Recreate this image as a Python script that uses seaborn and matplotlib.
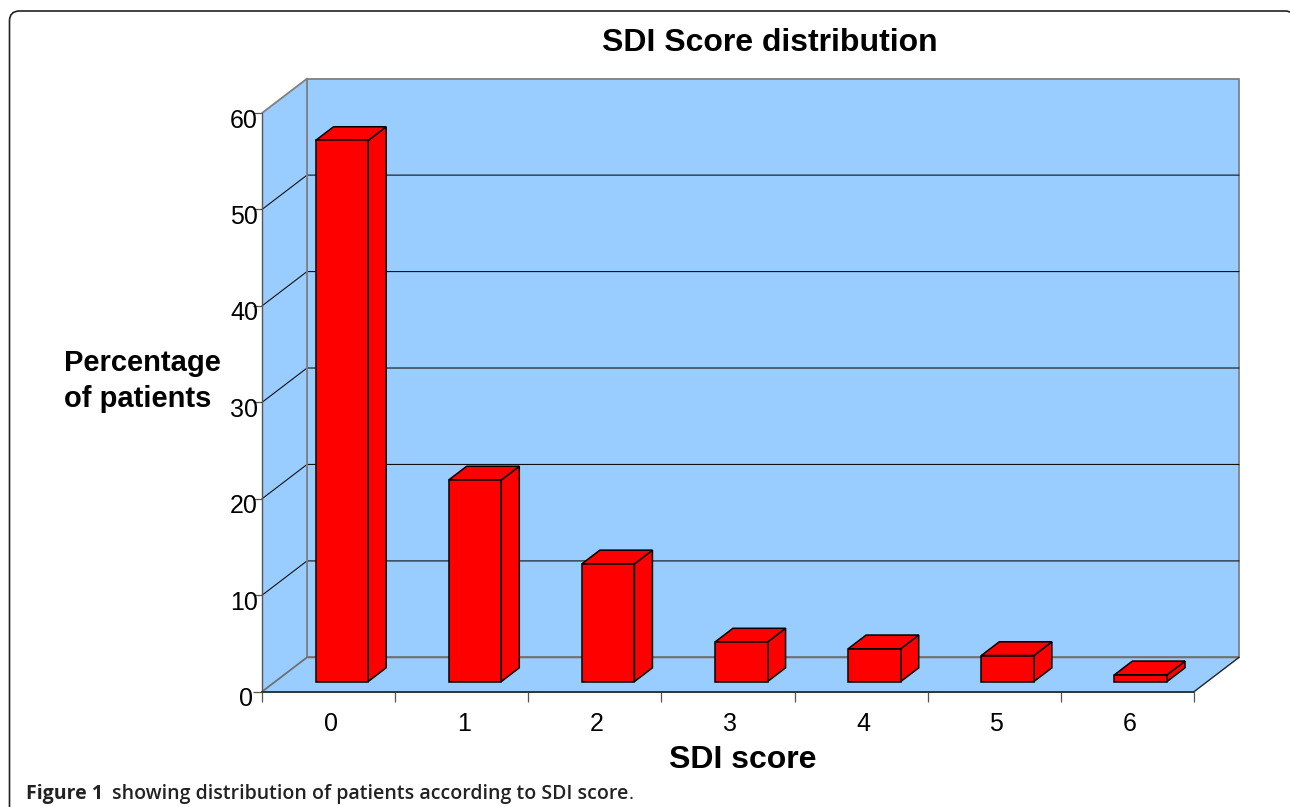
import matplotlib
matplotlib.use('Agg')
import matplotlib.pyplot as plt
import pandas as pd
import seaborn as sns
from matplotlib.patches import FancyBboxPatch, Polygon
from matplotlib.transforms import Affine2D, IdentityTransform

scores = ['0', '1', '2', '3', '4', '5', '6']
percent = [56.1, 20.9, 12.2, 4.1, 3.4, 2.7, 0.7]
y_ticks = [0, 10, 20, 30, 40, 50, 60]

# Size of the fake 3D box, in data units
DEPTH_X = 0.338
DEPTH_Y = 3.56
BAR_FRONT = 0.295
BAR_DEPTH = 0.4
WALL = '#99CCFF'
RED = '#FF0000'

W, H = 1290, 807

sns.set_style('white')
plt.rcParams['font.family'] = ['Liberation Sans', 'DejaVu Sans']

fig = plt.figure(figsize=(W / 100, H / 100), dpi=100)
ax = fig.add_axes([262 / W, (H - 691.7) / H, 932 / W, 578.7 / H])

df = pd.DataFrame({'score': scores, 'percent': percent})
sns.barplot(data=df, x='score', y='percent', color=RED, saturation=1, width=0.395, ax=ax)

x0, x1 = -0.5, 6.5
y0, y1 = 0, 60
ax.set_xlim(x0, x1)
ax.set_ylim(y0, y1)
ax.patch.set_visible(False)
sns.despine(ax=ax, left=True, bottom=True)


def face(points, fc, ec, lw=1.0, z=1):
    ax.add_patch(Polygon(points, closed=True, facecolor=fc, edgecolor=ec, linewidth=lw,
                         zorder=z, clip_on=False, joinstyle='miter'))


# Walls and floor
face([(x0 + DEPTH_X, y0 + DEPTH_Y), (x1 + DEPTH_X, y0 + DEPTH_Y),
      (x1 + DEPTH_X, y1 + DEPTH_Y), (x0 + DEPTH_X, y1 + DEPTH_Y)], WALL, '#808080', 1.3, 0)
face([(x0, y0), (x0 + DEPTH_X, y0 + DEPTH_Y),
      (x0 + DEPTH_X, y1 + DEPTH_Y), (x0, y1)], WALL, 'none', 0, 0)
face([(x0, y0), (x1, y0), (x1 + DEPTH_X, y0 + DEPTH_Y),
      (x0 + DEPTH_X, y0 + DEPTH_Y)], WALL, 'none', 0, 0)

# Gridlines run along the side wall and then the back wall
for v in y_ticks[1:-1]:
    ax.plot([x0, x0 + DEPTH_X, x1 + DEPTH_X], [v, v + DEPTH_Y, v + DEPTH_Y],
            color='#111111', lw=0.8, zorder=1, clip_on=False)
ax.plot([x0, x0 + DEPTH_X], [y1, y1 + DEPTH_Y], color='#808080', lw=1.3, zorder=1, clip_on=False)
ax.plot([x0 + DEPTH_X, x0 + DEPTH_X], [y0 + DEPTH_Y, y1 + DEPTH_Y], color='#808080', lw=1.3, zorder=1, clip_on=False)
ax.plot([x0, x0 + DEPTH_X, x1 + DEPTH_X], [y0, y0 + DEPTH_Y, y0 + DEPTH_Y],
        color='#707070', lw=1.3, zorder=1, clip_on=False)
ax.plot([x1, x1 + DEPTH_X], [y0, y0 + DEPTH_Y], color='#222222', lw=1.0, zorder=1, clip_on=False)
ax.plot([x0, x0], [y0, y1], color='#555555', lw=1.0, zorder=2, clip_on=False)
ax.plot([x0, x1], [y0, y0], color='#333333', lw=1.4, zorder=2, clip_on=False)

# Push bars back onto the floor and give them a top and a side
dx = DEPTH_X * BAR_DEPTH
dy = DEPTH_Y * BAR_DEPTH
for bar in ax.patches[:len(scores)]:
    bar.set_x(bar.get_x() + DEPTH_X * BAR_FRONT)
    bar.set_y(DEPTH_Y * BAR_FRONT)
    bar.set_edgecolor('black')
    bar.set_linewidth(1.1)
    bar.set_zorder(4)
    left = bar.get_x()
    right = left + bar.get_width()
    base = bar.get_y()
    top = base + bar.get_height()
    face([(right, base), (right + dx, base + dy), (right + dx, top + dy), (right, top)], RED, 'black', 1.1, 3)
    face([(left, top), (left + dx, top + dy), (right + dx, top + dy), (right, top)], RED, 'black', 1.1, 3)

# Ticks: x marks sit between the categories
ax.set_xticks(range(len(scores)))
ax.set_xticklabels(scores)
ax.set_xticks([i - 0.5 for i in range(len(scores) + 1)], minor=True)
ax.tick_params(axis='x', which='minor', bottom=True, length=7.2, width=0.9, color='#555555')
ax.tick_params(axis='x', which='major', bottom=False, length=0, pad=14.5, labelsize=18, labelcolor='black')
ax.set_yticks(y_ticks)
ax.tick_params(axis='y', left=True, length=6.5, width=0.9, color='#555555', pad=0, labelsize=18, labelcolor='black')
for lab, v in zip(ax.get_yticklabels(), y_ticks):
    lab.set_transform(lab.get_transform() + Affine2D().translate(5 if v else 0, -5))
for lab in ax.get_xticklabels():
    lab.set_transform(lab.get_transform() + Affine2D().translate(2, 0))

ax.set_title('SDI Score distribution', fontsize=23, fontweight='bold', color='black',
             x=(770 - 262) / 932, y=1.121, va='center', pad=0)
ax.set_xlabel('SDI score', fontsize=23, fontweight='bold', color='black', va='center')
ax.xaxis.set_label_coords((743 - 262) / 932, (691.7 - 760) / 578.7)
ax.set_ylabel('Percentage\nof patients', fontsize=21, fontweight='bold', color='black', rotation=0, ha='left',
              va='center', multialignment='left', linespacing=1.39)
ax.yaxis.set_label_coords((64 - 262) / 932, (691.7 - 381) / 578.7)

# Journal frame with rounded corners, runs off the page at the bottom and right
fig.add_artist(FancyBboxPatch((19.5, -40), 1265.5, 826, boxstyle='round,pad=10,rounding_size=10',
                              transform=IdentityTransform(), facecolor='white', edgecolor='#222222', linewidth=1.2,
                              zorder=-1))

fig.text(26 / W, 1 - 794 / H, 'Figure 1', family='Open Sans', fontweight='bold', fontsize=14, color='#222222', va='center')
fig.text(112 / W, 1 - 794 / H, 'showing distribution of patients according to SDI score', family='Open Sans',
         fontweight='semibold', fontsize=14, color='#222222', va='center')
fig.text(629 / W, 1 - 794 / H, '.', family='Open Sans', fontsize=14, color='#222222', va='center')

fig.savefig('out.png', dpi=100)
